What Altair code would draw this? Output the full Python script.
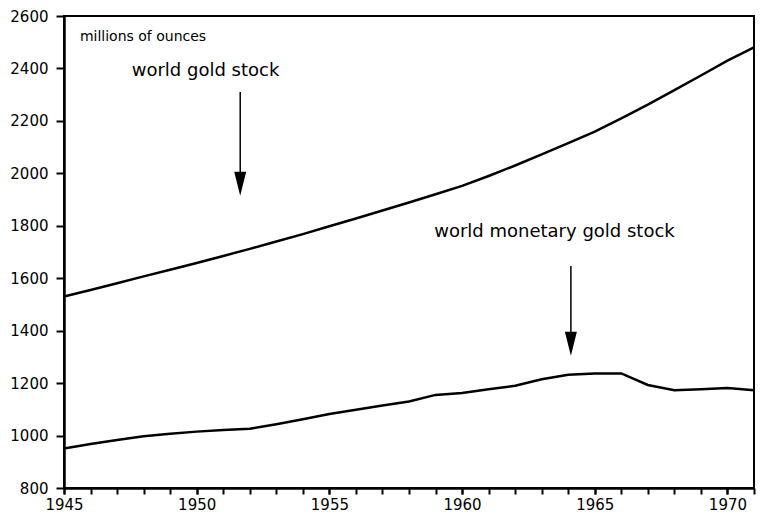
import altair as alt
import pandas as pd

years = list(range(1945, 1972))
major_years = [1945, 1950, 1955, 1960, 1965, 1970]
world_gold_stock = [1530, 1555, 1581, 1607, 1632, 1658, 1685, 1712, 1740, 1768,
                    1798, 1828, 1858, 1889, 1920, 1952, 1990, 2030, 2072, 2115,
                    2159, 2210, 2262, 2317, 2373, 2430, 2480]
world_monetary_gold_stock = [951, 968, 983, 997, 1007, 1015, 1021, 1026, 1043, 1062,
                             1082, 1098, 1115, 1130, 1155, 1162, 1177, 1190, 1215, 1232,
                             1237, 1237, 1193, 1173, 1177, 1181, 1173]

y_ticks = [800, 1000, 1200, 1400, 1600, 1800, 2000, 2200, 2400, 2600]

label_text = ["millions of ounces", "world gold stock", "world monetary gold stock"]
label_x = [1945.6, 1947.55, 1958.95]
label_y = [2521, 2389, 1775]
label_size = [14, 18, 18]

arrow_x = [1951.64, 1964.1]
arrow_top = [2310, 1647]
arrow_base = [2005, 1395]
arrow_head_mid = [1960, 1350]

df = pd.DataFrame({
    "year": years * 2,
    "value": world_gold_stock + world_monetary_gold_stock,
    "series": ["world gold stock"] * len(years) + ["world monetary gold stock"] * len(years),
})
labels = pd.DataFrame({"t": label_text, "x": label_x, "y": label_y, "s": label_size})
arrows = pd.DataFrame({"x": arrow_x, "top": arrow_top, "base": arrow_base, "mid": arrow_head_mid})

font = "DejaVu Sans"
xscale = alt.Scale(domain=[1945, 1971], nice=False, zero=False)
yscale = alt.Scale(domain=[800, 2600], nice=False, zero=False)

xaxis = alt.Axis(values=major_years, format="d", title=None, grid=False, orient="bottom",
                 labelOverlap=False,
                 domainColor="black", domainWidth=2.5, tickColor="black", tickWidth=2,
                 tickSize=6, labelFont=font, labelFontSize=15, labelColor="black",
                 labelPadding=3, labelFlush=False)
xaxis_minor = alt.Axis(values=years, title=None, grid=False, orient="bottom",
                       labels=False, domain=False, tickColor="black", tickWidth=2,
                       tickSize=6)
yaxis = alt.Axis(values=y_ticks, format="d", title=None, grid=False,
                 labelOverlap=False,
                 domainColor="black", domainWidth=2.5, tickColor="black", tickWidth=2,
                 tickSize=8, labelFont=font, labelFontSize=15, labelColor="black",
                 labelPadding=8, labelFlush=False)

lines = alt.Chart(df).mark_line(color="black", strokeWidth=2.5).encode(
    x=alt.X("year:Q", scale=xscale, axis=xaxis),
    y=alt.Y("value:Q", scale=yscale, axis=yaxis),
    detail="series:N",
)

shafts = alt.Chart(arrows).mark_rule(color="black", strokeWidth=1.5).encode(
    x=alt.X("x:Q", scale=xscale, axis=xaxis_minor),
    y=alt.Y("top:Q", scale=yscale),
    y2="base:Q",
)

heads = alt.Chart(arrows).mark_point(
    shape="M-0.5,-1L0.5,-1L0,1Z", filled=True, color="black", opacity=1, size=576
).encode(
    x=alt.X("x:Q", scale=xscale, axis=None),
    y=alt.Y("mid:Q", scale=yscale),
)

texts = alt.Chart(labels).mark_text(align="left", baseline="middle", font=font,
                                    color="black").encode(
    x=alt.X("x:Q", scale=xscale, axis=None),
    y=alt.Y("y:Q", scale=yscale),
    text="t:N",
    size=alt.Size("s:Q", scale=None, legend=None),
)

chart = alt.layer(lines, shafts, heads, texts).resolve_axis(x="independent").properties(
    width=690, height=472,
    autosize=alt.AutoSizeParams(type="none"),
    padding={"left": 56, "top": 8, "right": 2, "bottom": 25},
).configure(
    background="white",
    view=alt.ViewConfig(stroke="black", strokeWidth=2),
)

chart.save("out.html", embed_options={"renderer": "svg", "actions": False})
